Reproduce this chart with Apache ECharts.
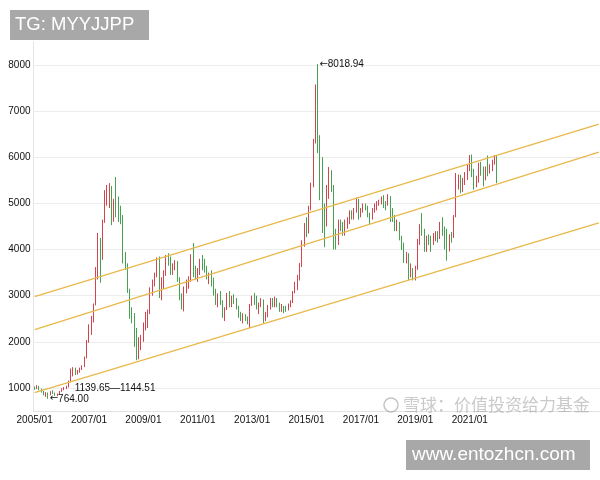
<!DOCTYPE html>
<html><head><meta charset="utf-8">
<script src="https://cdn.jsdelivr.net/npm/echarts@6/dist/echarts.min.js"></script>
<style>html,body{margin:0;padding:0;background:#fff}#c{width:600px;height:480px}</style>
</head><body><div id="c"></div>
<script>
// Monthly candles: [open, close, low, high]
const y2005 = [[1000,985,960,1030],[985,1040,975,1060],[1040,960,950,1045],[960,930,900,985],[930,860,840,940],[860,890,805,910],[890,850,764,900],[850,900,840,930],[900,880,870,950],[880,840,830,900],[840,860,820,880],[860,925,850,935]];
const y2006 = [[925,975,915,990],[975,990,950,1020],[990,1020,975,1045],[1020,1140,1010,1160],[1140,1380,1130,1420],[1380,1400,1250,1450],[1400,1320,1280,1440],[1320,1360,1290,1390],[1360,1420,1330,1440],[1420,1460,1390,1490],[1460,1650,1450,1680],[1650,2000,1640,2040]];
const y2007 = [[2000,2350,1980,2380],[2350,2450,2150,2560],[2450,2800,2420,2830],[2800,3550,2790,3620],[3550,3900,3350,4360],[3900,3800,3280,4250],[3800,4600,3780,4650],[4600,5250,4580,5290],[5250,5300,4950,5400],[5300,5350,4900,5440],[5350,4700,4530,5380],[4700,5000,4600,5100]];
const y2008 = [[5000,4800,4700,5573],[4800,4700,4600,5150],[4700,4600,4550,4950],[4600,3800,3700,4750],[3800,3650,3560,3950],[3650,3100,3060,3700],[3100,2700,2500,3150],[2700,2500,2400,2750],[2500,2150,1890,2625],[2150,1750,1600,2300],[1750,2000,1620,2100],[2000,2050,1820,2150]];
const y2009 = [[2050,2300,2000,2420],[2300,2400,2250,2650],[2400,2650,2300,2700],[2650,3050,2600,3180],[3050,3250,3000,3350],[3250,3450,3200,3500],[3450,3780,3400,3830],[3780,3050,2950,3850],[3050,3200,2900,3400],[3200,3500,3150,3550],[3500,3850,3430,3880],[3850,3800,3650,3920]];
const y2010 = [[3800,3550,3450,3850],[3550,3600,3450,3700],[3600,3700,3550,3770],[3700,3350,3300,3750],[3350,3000,2900,3400],[3000,2800,2700,3050],[2800,3150,2660,3200],[3150,3250,3050,3350],[3250,3350,3150,3420],[3350,3850,3300,3900],[3850,3500,3400,4140],[3500,3450,3350,3650]];
const y2011 = [[3450,3500,3300,3600],[3500,3700,3450,3800],[3700,3650,3550,3880],[3650,3600,3500,3800],[3600,3400,3350,3650],[3400,3450,3250,3500],[3450,3300,3200,3550],[3300,3100,3000,3390],[3100,2850,2800,3150],[2850,3000,2750,3050],[3000,2850,2800,3100],[2850,2550,2520,2900]];
const y2012 = [[2550,2700,2450,2750],[2700,2950,2690,3060],[2950,2800,2750,3100],[2800,2950,2750,3000],[2950,2900,2820,3030],[2900,2750,2700,2950],[2750,2600,2520,2780],[2600,2500,2450,2650],[2500,2550,2400,2620],[2550,2500,2450,2600],[2500,2420,2380,2550],[2420,2800,2300,2820]];
const y2013 = [[2800,2950,2780,3000],[2950,2900,2800,3060],[2900,2750,2700,3000],[2750,2770,2600,2850],[2770,2900,2750,2950],[2900,2500,2410,2920],[2500,2550,2450,2650],[2550,2750,2530,2800],[2750,2850,2700,2950],[2850,2800,2750,2950],[2800,2900,2750,2980],[2900,2800,2750,2950]];
const y2014 = [[2800,2700,2650,2850],[2700,2750,2650,2820],[2750,2720,2620,2780],[2720,2700,2650,2780],[2700,2800,2680,2830],[2800,2850,2750,2900],[2850,3080,2840,3100],[3080,3150,3050,3300],[3150,3400,3120,3450],[3400,3650,3330,3710],[3650,4150,3620,4200],[4150,4500,4060,4575]];
const y2015 = [[4500,4450,4270,4700],[4450,4900,4350,4950],[4900,5400,4850,5450],[5400,6350,5350,6400],[6350,7500,6300,7580],[7500,6200,6090,8018.94],[6200,5750,5070,6480],[5750,4700,4360,6000],[4700,4550,4050,5000],[4550,5300,4500,5400],[5300,5650,5100,5790],[5650,5400,5250,5720]];
const y2016 = [[5400,4300,4000,5400],[4300,4200,4000,4450],[4200,4600,4100,4650],[4600,4500,4400,4650],[4500,4450,4300,4600],[4450,4550,4300,4650],[4550,4600,4450,4700],[4600,4800,4550,4850],[4800,4700,4650,4850],[4700,4850,4650,4900],[4850,5050,4800,5130],[5050,4750,4650,5100]];
const y2017 = [[4750,4850,4700,4900],[4850,4950,4800,5000],[4950,4900,4850,5000],[4900,4750,4700,4950],[4750,4700,4550,4800],[4700,4850,4650,4900],[4850,4950,4800,5000],[4950,5000,4850,5050],[5000,5020,4950,5080],[5020,5100,4980,5150],[5100,5000,4900,5180],[5000,4980,4850,5050]];
const y2018 = [[4980,5150,4950,5200],[5150,4850,4600,5160],[4850,4700,4600,4900],[4700,4500,4400,4750],[4500,4550,4400,4650],[4550,4250,4200,4600],[4250,4100,3990,4300],[4100,3850,3710,4150],[3850,3900,3700,3950],[3900,3500,3340,3920],[3500,3550,3400,3700],[3550,3400,3330,3600]];
const y2019 = [[3400,3600,3330,3650],[3600,4200,3560,4230],[4200,4450,4100,4550],[4450,4400,4300,4790],[4400,4050,3950,4450],[4050,4250,3950,4300],[4250,4200,4100,4330],[4200,4150,3950,4300],[4150,4250,4100,4360],[4250,4350,4180,4400],[4350,4250,4150,4400],[4250,4550,4230,4600]];
const y2020 = [[4550,4450,4300,4700],[4450,4350,4000,4500],[4350,4000,3760,4450],[4000,4300,3960,4330],[4300,4280,4150,4380],[4280,4700,4250,4750],[4700,5450,4700,5660],[5450,5600,5300,5630],[5600,5300,5220,5620],[5300,5450,5250,5550],[5450,5650,5400,5680],[5650,5800,5510,5850]];
const y2021 = [[5800,6000,5700,6050],[6000,5700,5570,6060],[5700,5400,5300,5750],[5400,5500,5350,5600],[5500,5800,5450,5880],[5800,5700,5600,5900],[5700,5550,5370,5800],[5550,5750,5500,5800],[5750,5700,5590,6040],[5700,5800,5650,5850],[5800,5850,5700,5950],[5850,6000,5840,6050]];
const y2022 = [[6000,5450,5440,6030]];

const tickLabels = ['2005/01','2007/01','2009/01','2011/01','2013/01','2015/01','2017/01','2019/01','2021/01'];
const yTickValues = [1000,2000,3000,4000,5000,6000,7000,8000];

// channel lines: value at axis start, value at axis end
const channelStart = [2980, 2265, 900];
const channelEnd = [6720, 6115, 4580];

// price notes
const noteMonths = ['2005/07', '2006/06', '2015/06'];
const noteValues = [764, 990, 8018.94];
const noteArrows = ['←', '', '←'];
const noteTexts = ['764.00', '1139.65—1144.51', '8018.94'];

// ---- build ----
const candles = [].concat(y2005,y2006,y2007,y2008,y2009,y2010,y2011,y2012,y2013,y2014,y2015,y2016,y2017,y2018,y2019,y2020,y2021,y2022)
  .map(r => [r[0], r[1], r[2], r[3]]);
const months = [];
for (let i = 0; i < 250; i++) {
  const y = 2005 + Math.floor(i / 12), m = i % 12 + 1;
  months.push(y + '/' + (m < 10 ? '0' + m : m));
}
const FONT = 'Liberation Sans, Arial, sans-serif';
const chart = echarts.init(document.getElementById('c'), null, {renderer: 'canvas'});
chart.setOption({
  animation: false,
  backgroundColor: '#fff',
  grid: {left: 33.5, right: 0, top: 42, bottom: 69},
  xAxis: {
    type: 'category', data: months, boundaryGap: true,
    axisLine: {show: true, lineStyle: {color: '#e2e2e2'}},
    axisTick: {show: false},
    axisLabel: {
      interval: (i, v) => tickLabels.indexOf(v) >= 0,
      color: '#111', fontSize: 10, fontFamily: FONT, margin: 4
    },
    splitLine: {show: false}
  },
  yAxis: {
    type: 'value', min: 500, max: 8500, interval: 500,
    axisLine: {show: true, lineStyle: {color: '#e6e6e6'}},
    axisTick: {show: false},
    axisLabel: {
      formatter: v => yTickValues.indexOf(v) >= 0 ? String(v) : '',
      color: '#111', fontSize: 10, fontFamily: FONT, margin: 3
    },
    splitLine: {show: true, lineStyle: {color: ['rgba(0,0,0,0)', '#ececec'], width: 1}}
  },
  series: [{
    type: 'candlestick',
    data: candles,
    barMaxWidth: 2,
    itemStyle: {color: '#d2454f', color0: '#46a150', borderColor: '#d2454f', borderColor0: '#46a150', borderWidth: 1},
    markLine: {
      silent: true, symbol: ['none', 'none'], animation: false,
      label: {show: false},
      lineStyle: {color: '#e8b84a', width: 1.3, type: 'solid'},
      emphasis: {disabled: true},
      data: channelStart.map((v, i) => [
        {coord: [months[0], v]},
        {coord: [months[months.length - 1], channelEnd[i]]}
      ])
    },
    markPoint: {
      silent: true, symbol: 'circle', symbolSize: 1,
      itemStyle: {color: 'rgba(0,0,0,0)'},
      label: {show: true, position: 'right', distance: 1, color: '#111', fontSize: 10, fontFamily: FONT,
        formatter: p => (noteArrows[p.dataIndex] ? '{a|' + noteArrows[p.dataIndex] + '}' : '') + p.name,
        rich: {a: {fontFamily: 'DejaVu Sans', fontSize: 10, color: '#111'}}},
      data: noteMonths.map((m, i) => ({name: noteTexts[i], coord: [m, noteValues[i]]}))
    }
  }],
  graphic: [
    {type: 'rect', left: 10, top: 10, shape: {width: 139, height: 30}, style: {fill: '#a8a8a8'}, z: 100},
    {type: 'text', left: 15, top: 15, style: {text: 'TG: MYYJJPP', fill: '#fff', font: '18.5px ' + FONT}, z: 101},
    {type: 'circle', shape: {cx: 391, cy: 405, r: 7}, style: {fill: 'none', stroke: 'rgba(150,150,150,0.55)', lineWidth: 1.5}, z: 100},
    {type: 'text', left: 403, top: 396, style: {text: '雪球：价值投资给力基金', fill: 'rgba(150,150,150,0.5)', font: '17px Noto Sans CJK SC'}, z: 100},
    {type: 'rect', left: 406, top: 440, shape: {width: 184, height: 30}, style: {fill: '#a8a8a8'}, z: 100},
    {type: 'text', left: 412, top: 445, style: {text: 'www.entozhcn.com', fill: '#fff', font: '19px ' + FONT}, z: 101}
  ]
});
</script>
</body></html>
